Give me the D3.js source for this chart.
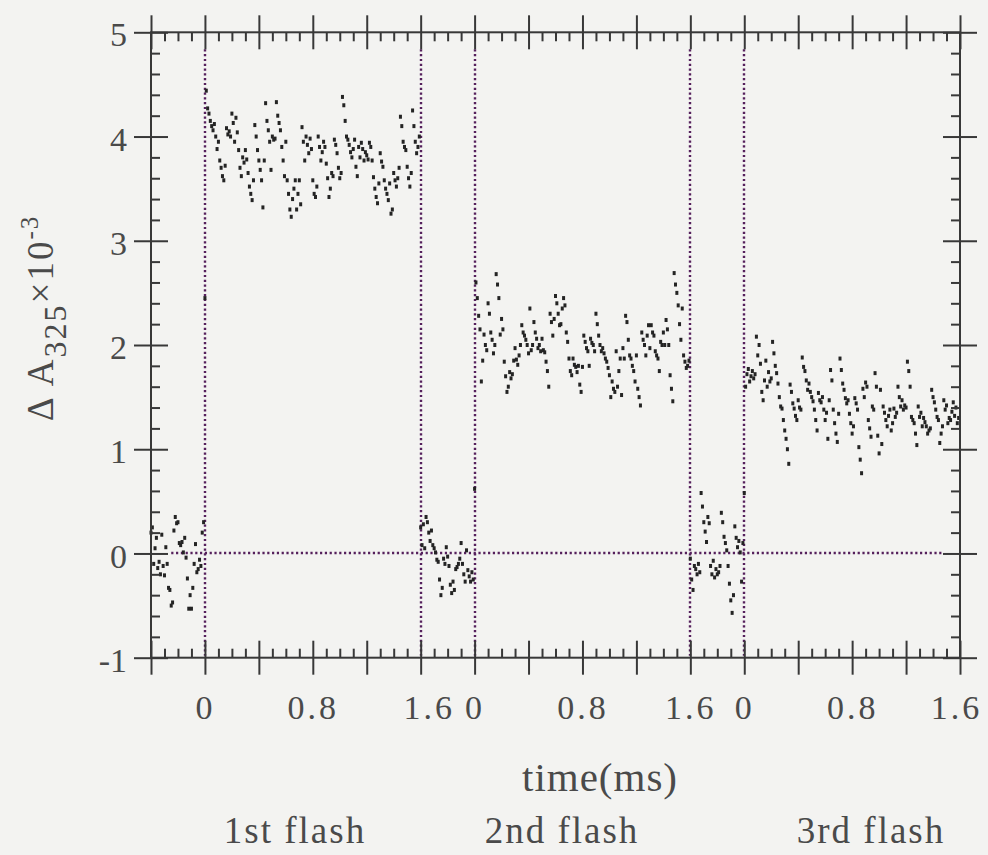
<!DOCTYPE html>
<html>
<head>
<meta charset="utf-8">
<script src="https://cdn.jsdelivr.net/npm/d3@7/dist/d3.min.js"></script>
<style>
  html, body { margin: 0; padding: 0; background: #f3f3f1; }
  svg { display: block; }
  text { font-family: "Liberation Serif", "DejaVu Serif", serif; fill: #4a4a4a; }
</style>
</head>
<body>
<svg id="chart" width="988" height="855"></svg>
<script>
// Absorbance change at 325 nm after three successive flashes.
// Each flash window: 0.4 ms of baseline before the flash, 1.6 ms after; samples every 0.01 ms.
const sampleStep = 0.01;
const preDuration = 0.4;
const postDuration = 1.6;

const flashNames = ["1st flash", "2nd flash", "3rd flash"];
const xTickLabels = ["0", "0.8", "1.6"];
const xTickValues = [0, 0.8, 1.6];
const yTickValues = [-1, 0, 1, 2, 3, 4, 5];

// 1st flash
const pre1 = [
  0.2, 0.25, -0.1, 0.05, 0.15, -0.14, -0.08, -0.2, 0.18, -0.12,
  -0.21, 0.06, -0.1, -0.33, -0.35, -0.5, -0.47, 0.22, 0.35, 0.29,
  0.3, 0.1, 0.08, 0.11, 0.01, 0.15, -0.04, -0.24, -0.53, -0.4,
  -0.53, -0.33, -0.1, 0.09, -0.18, -0.15, -0.06, -0.12, 0.2, 0.3
];
const post1 = [
  2.45, 4.44, 4.27, 4.22, 4.15, 4.1, 4.06, 4.12, 4.0, 3.88,
  3.95, 3.77, 3.7, 3.62, 3.58, 3.72, 4.08, 4.02, 4.05, 4.0,
  4.22, 4.13, 3.95, 4.18, 4.04, 3.87, 3.7, 3.62, 3.8, 3.75,
  3.87, 3.78, 3.65, 3.52, 3.45, 3.39, 3.58, 4.11, 4.0, 3.87,
  3.77, 3.68, 3.58, 3.32, 3.77, 4.32, 4.15, 4.06, 3.95, 3.68,
  4.0, 3.97, 3.98, 4.33, 4.2, 4.13, 4.06, 3.9, 3.77, 3.62,
  3.95, 3.58, 3.45, 3.3, 3.23, 3.4, 3.5, 3.58, 3.3, 3.45,
  3.58, 3.35, 4.09, 3.95, 3.77, 4.0, 3.92, 3.84, 3.98, 3.88,
  3.58, 3.45, 3.42, 3.52, 4.0, 3.9, 3.77, 3.85, 3.95, 3.9,
  3.74, 3.6, 3.42, 3.5, 3.65, 3.62, 3.97, 3.92, 3.84, 3.7,
  3.6, 3.65, 4.38, 4.3, 4.15, 4.0, 3.97, 3.92, 3.85, 3.8,
  3.88, 3.97, 3.71, 3.62, 3.9, 3.8, 3.94, 3.88, 3.77, 3.85,
  3.82, 3.78, 3.94, 3.9, 3.77, 3.61, 3.5, 3.42, 3.36, 3.55,
  3.84, 3.76, 3.71, 3.58, 3.5, 3.45, 3.39, 3.55, 3.26, 3.3,
  3.65, 3.58, 3.52, 3.6, 3.7, 4.19, 4.1, 3.95, 3.9, 3.87,
  3.71, 3.6, 3.52, 3.65, 4.25, 4.1, 3.95, 3.84, 3.9, 4.0
];

// 2nd flash
const pre2 = [
  0.25, 0.08, 0.28, 0.05, 0.35, 0.3, 0.2, 0.12, 0.22, 0.08,
  0.05, 0.01, -0.06, -0.08, -0.25, -0.4, -0.33, -0.05, -0.1, 0.06,
  -0.03, -0.12, -0.3, -0.38, -0.27, -0.35, -0.15, -0.13, -0.1, -0.05,
  0.1, -0.1, -0.2, -0.27, 0.03, -0.16, -0.22, -0.27, -0.18, -0.25
];
const post2 = [
  0.62, 2.6, 2.45, 2.28, 2.15, 1.65, 1.85, 2.1, 2.0, 1.95,
  2.4, 2.3, 2.12, 2.05, 1.92, 2.0, 2.68, 2.58, 2.45, 2.1,
  2.25, 2.15, 1.84, 1.7, 1.55, 1.6, 1.74, 1.68, 1.72, 1.85,
  1.97, 1.86, 1.81, 1.9, 2.0, 2.19, 2.12, 2.09, 2.05, 2.0,
  1.92, 2.35, 1.95, 2.0, 2.22, 2.12, 2.06, 1.97, 2.0, 1.94,
  2.06, 1.95, 1.93, 1.84, 1.75, 1.6, 2.3, 2.22, 2.09, 2.25,
  2.47, 2.4, 2.3, 2.19, 2.2, 2.35, 2.45, 2.38, 2.12, 2.03,
  1.87, 1.75, 1.71, 1.87, 1.81, 1.79, 1.74, 1.8, 1.62, 1.55,
  1.79, 2.09, 2.03, 1.97, 1.94, 1.8, 2.06, 2.02, 2.0, 1.94,
  2.3, 2.2, 2.09, 2.0, 1.94, 1.97, 1.92, 1.87, 1.84, 1.78,
  1.71, 1.5, 1.65, 1.58, 1.55, 1.94, 1.6, 1.75, 1.87, 1.52,
  1.97, 1.87, 2.28, 2.22, 2.05, 1.9, 1.87, 1.8, 1.75, 1.65,
  1.9, 1.58, 1.5, 1.42, 2.12, 2.05, 2.0, 1.9, 2.09, 2.19,
  1.97, 2.19, 2.12, 2.09, 1.94, 1.9, 1.87, 1.75, 2.03, 2.0,
  2.12, 2.0, 2.24, 2.15, 2.0, 1.71, 1.58, 1.46, 2.69, 2.58,
  2.5, 2.38, 2.2, 2.05, 2.35, 1.9, 1.84, 1.78, 1.8, 1.85
];

// 3rd flash
const pre3 = [
  -0.05, -0.25, -0.35, -0.12, -0.15, -0.2, -0.1, -0.18, 0.58, 0.45,
  0.3, 0.21, 0.11, 0.35, 0.29, -0.12, -0.2, -0.07, -0.23, -0.15,
  -0.2, -0.18, -0.12, 0.39, 0.3, 0.16, 0.1, 0.03, -0.12, -0.29,
  -0.45, -0.57, -0.4, 0.26, 0.15, 0.06, 0.12, 0.01, -0.27, 0.1
];
const post3 = [
  0.58, 1.6, 1.72, 1.77, 1.65, 1.7, 1.75, 1.68, 1.72, 2.08,
  1.9, 2.0, 1.82, 1.55, 1.47, 1.66, 1.85, 1.6, 1.74, 1.65,
  1.68, 2.03, 1.92, 1.8, 1.73, 1.63, 1.5, 1.41, 1.39, 1.28,
  1.18, 1.1, 1.0, 0.86, 1.62, 1.55, 1.44, 1.39, 1.32, 1.28,
  1.47, 1.4, 1.38, 1.88, 1.79, 1.75, 1.66, 1.57, 1.63, 1.55,
  1.5, 1.46, 1.38, 1.28, 1.18, 1.54, 1.47, 1.45, 1.5, 1.38,
  1.28, 1.35, 1.1, 1.47, 1.76, 1.66, 1.38, 1.25, 1.15, 1.07,
  1.34, 1.87, 1.76, 1.63, 1.57, 1.49, 1.44, 1.47, 1.34, 1.25,
  1.15, 1.22, 1.49, 1.44, 1.38, 1.02, 0.9, 0.77, 1.58, 1.5,
  1.64, 1.6, 1.28, 1.2, 1.12, 1.41, 1.38, 1.73, 1.6, 1.13,
  0.96, 1.57, 1.05, 1.41, 1.35, 1.28, 1.22, 1.32, 1.38, 1.18,
  1.25, 1.39, 1.31, 1.35, 1.6, 1.5, 1.41, 1.47, 1.38, 1.42,
  1.4, 1.84, 1.75, 1.6, 1.31, 1.28, 1.25, 1.15, 1.04, 1.41,
  1.31, 1.35, 1.22, 1.3, 1.26, 1.22, 1.15, 1.18, 1.2, 1.57,
  1.5, 1.45, 1.38, 1.31, 1.28, 1.06, 1.15, 1.22, 1.47, 1.38,
  1.42, 1.25, 1.3, 1.28, 1.36, 1.45, 1.32, 1.4, 1.25, 1.3
];

const flashes = [
  { pre: pre1, post: post1 },
  { pre: pre2, post: post2 },
  { pre: pre3, post: post3 }
];

// ---------- layout ----------
const svg = d3.select("#chart");
const plot = { left: 151, right: 960, top: 32.3, bottom: 657.7 };
const panelSpan = preDuration + postDuration;           // 2.0 ms per flash window
const nPanels = flashes.length;

// Continuous time axis: panel k occupies [-0.4 + 2k, 1.6 + 2k]
const x = d3.scaleLinear()
  .domain([-preDuration, -preDuration + panelSpan * nPanels])
  .range([plot.left, plot.right]);
const y = d3.scaleLinear()
  .domain([-1, 5])
  .range([plot.bottom, plot.top]);

const axisColor = "#383838";
const guideColor = "#55205c";

// flattened points
const points = [];
flashes.forEach((f, k) => {
  const off = k * panelSpan;
  f.pre.forEach((v, i) => points.push({ t: off - preDuration + i * sampleStep, v }));
  f.post.forEach((v, i) => points.push({ t: off + i * sampleStep, v }));
});

// ---------- dotted guides ----------
const guides = svg.append("g").attr("class", "guides")
  .attr("stroke", guideColor).attr("stroke-width", 2.4)
  .attr("stroke-dasharray", "2.2 2.6").attr("fill", "none");

const vGuides = [];
for (let k = 0; k < nPanels; k++) {
  vGuides.push(k * panelSpan);                                      // flash
  if (k < nPanels - 1) vGuides.push(k * panelSpan + postDuration);  // window end
}
guides.selectAll("line.v").data(vGuides).join("line")
  .attr("class", "v")
  .attr("x1", d => Math.round(x(d))).attr("x2", d => Math.round(x(d)))
  .attr("y1", plot.top + 17).attr("y2", plot.bottom - 2);

guides.append("line")
  .attr("x1", x(-0.25)).attr("x2", plot.right - 17)
  .attr("y1", Math.round(y(0))).attr("y2", Math.round(y(0)));

// ---------- data marks ----------
svg.append("g").attr("class", "marks")
  .selectAll("rect").data(points).join("rect")
  .attr("x", d => x(d.t) - 1.5)
  .attr("y", d => y(d.v) - 2)
  .attr("width", 3)
  .attr("height", 4)
  .attr("fill", "#242424");

// ---------- axes ----------
const majorX = d3.range(0, nPanels * panelSpan / 0.4 + 1).map(i => -preDuration + i * 0.4);
const minorX = d3.range(0, nPanels * panelSpan / 0.1 + 1).map(i => -preDuration + i * 0.1)
  .filter((v, i) => i % 4 !== 0);
const majorY = yTickValues;
const minorY = d3.range(0, 31).map(i => -1 + i * 0.2).filter((v, i) => i % 5 !== 0);

function styleAxis(g) {
  g.select(".domain").remove();
  g.selectAll(".tick line").attr("stroke", axisColor).attr("stroke-width", 2);
  g.selectAll(".tick text").remove();
}

const axes = svg.append("g").attr("class", "axes");

// bottom and top axes: major ticks cross the frame, minor ticks point inward
[[plot.bottom, d3.axisBottom, d3.axisTop], [plot.top, d3.axisTop, d3.axisBottom]].forEach(([yy, outward, inward]) => {
  axes.append("g").attr("transform", `translate(0,${yy})`)
    .call(outward(x).tickValues(majorX).tickSize(17)).call(styleAxis);
  axes.append("g").attr("transform", `translate(0,${yy})`)
    .call(inward(x).tickValues(majorX).tickSize(17)).call(styleAxis);
  axes.append("g").attr("transform", `translate(0,${yy})`)
    .call(inward(x).tickValues(minorX).tickSize(9)).call(styleAxis);
});

// left and right axes
[[plot.left, d3.axisLeft, d3.axisRight], [plot.right, d3.axisRight, d3.axisLeft]].forEach(([xx, outward, inward]) => {
  axes.append("g").attr("transform", `translate(${xx},0)`)
    .call(outward(y).tickValues(majorY).tickSize(17)).call(styleAxis);
  axes.append("g").attr("transform", `translate(${xx},0)`)
    .call(inward(y).tickValues(majorY).tickSize(17)).call(styleAxis);
  axes.append("g").attr("transform", `translate(${xx},0)`)
    .call(inward(y).tickValues(minorY).tickSize(9)).call(styleAxis);
});

// frame
axes.append("rect")
  .attr("x", plot.left).attr("y", plot.top)
  .attr("width", plot.right - plot.left).attr("height", plot.bottom - plot.top)
  .attr("fill", "none").attr("stroke", axisColor).attr("stroke-width", 2);

// ---------- tick labels ----------
const yLabelAxis = d3.axisLeft(y).tickValues(majorY).tickSize(0).tickPadding(24)
  .tickFormat(d => d < 0 ? "-" + Math.abs(d) : String(d));
svg.append("g").attr("transform", `translate(${plot.left},0)`)
  .call(yLabelAxis)
  .call(g => g.select(".domain").remove())
  .selectAll("text")
  .attr("font-family", "Liberation Serif, serif")
  .attr("font-size", 34).attr("fill", "#4a4a4a")
  .attr("dy", "0.4em");

const xLabelVals = [];
flashes.forEach((f, k) => xTickValues.forEach((v, j) =>
  xLabelVals.push({ pos: k * panelSpan + v, label: xTickLabels[j] })));
const xLabelAxis = d3.axisBottom(x).tickValues(xLabelVals.map(d => d.pos)).tickSize(0).tickPadding(0)
  .tickFormat((d, i) => xLabelVals[i].label);
svg.append("g").attr("transform", `translate(0,${plot.bottom + 37})`)
  .call(xLabelAxis)
  .call(g => g.select(".domain").remove())
  .selectAll("text")
  .attr("font-family", "Liberation Serif, serif")
  .attr("font-size", 34).attr("fill", "#4a4a4a")
  .attr("letter-spacing", "3px")
  .attr("dx", (d, i) => i === xLabelVals.length - 1 ? -4 : (i === 2 ? 8 : 0));

// ---------- titles ----------
svg.append("text")
  .attr("x", 600).attr("y", 791)
  .attr("text-anchor", "middle")
  .attr("font-size", 41)
  .attr("letter-spacing", "1px")
  .text("time(ms)");

const flashX = [295, 562, 871];
svg.append("g").selectAll("text").data(flashNames).join("text")
  .attr("x", (d, i) => flashX[i]).attr("y", 843)
  .attr("text-anchor", "middle")
  .attr("font-size", 37)
  .attr("letter-spacing", "2px")
  .text(d => d);

const yTitle = svg.append("text")
  .attr("transform", "translate(53,318) rotate(-90)")
  .attr("text-anchor", "middle")
  .attr("font-size", 37)
  .attr("letter-spacing", "2px");
yTitle.append("tspan").text("\u0394 A");
yTitle.append("tspan").attr("dy", 13).attr("font-size", 32).text("325");
yTitle.append("tspan").attr("dy", -13).text("\u00d710");
yTitle.append("tspan").attr("dy", -15).attr("font-size", 25).text("-3");
</script>
</body>
</html>
